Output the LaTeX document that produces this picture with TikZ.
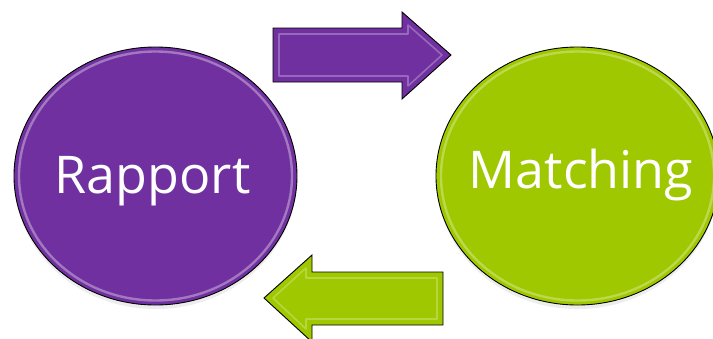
\documentclass[tikz,border=0pt]{standalone}
\usepackage{fontspec}
\setmainfont{Open Sans}
\usetikzlibrary{shapes.geometric}
\definecolor{rapportpurple}{HTML}{7030A0}
\definecolor{matchgreen}{HTML}{A0C800}
\tikzset{
  blob/.style={ellipse, draw=black, line width=0.9pt, minimum width=283pt,
    minimum height=258pt, inner sep=0pt},
  rim/.style={line width=2.4pt, draw opacity=0.5},
  label/.style={text=white, font=\fontsize{52}{60}\selectfont, anchor=base, inner sep=0pt},
  arrowbody/.style={draw=black, line width=0.9pt, line join=miter},
  bevel/.style={line width=1.6pt, draw opacity=0.5, line join=round},
  shade/.style={fill=black, fill opacity=0.07}
}
\begin{document}
\begin{tikzpicture}[x=1pt, y=-1pt]
  \useasboundingbox (0,0) rectangle (713,338);
  \clip (0,0) rectangle (713,338);

  % soft shadows under the two discs
  \fill[shade] (155.5,180) ellipse [x radius=141, y radius=129];
  \fill[shade] (577.5,180) ellipse [x radius=141, y radius=129];

  % the two discs
  \node[blob, fill=rapportpurple] (rapport) at (155.5,176) {};
  \node[blob, fill=matchgreen] (matching) at (577.5,176) {};

  % glossy rims
  \draw[rim, draw=white!70!rapportpurple] (rapport.center) ellipse [x radius=136.5, y radius=124.5];
  \draw[rim, draw=white!60!matchgreen] (matching.center) ellipse [x radius=136.5, y radius=124.5];

  % labels
  \node[label] (rapporttext) at (152.5,193) {Rapport};
  \node[label] (matchingtext) at (581,188) {Matching};

  % upper arrow, pointing right
  \path[arrowbody, fill=rapportpurple]
    (273,28) -- (402,28) -- (402,12) -- (451,55) -- (402,99) -- (402,82) -- (273,82) -- cycle;
  \draw[bevel, draw=white!55!rapportpurple]
    (279,34) -- (408,34) -- (408,25) -- (442,55) -- (408,86) -- (408,76) -- (279,76) -- cycle;

  % lower arrow, pointing left
  \path[arrowbody, fill=matchgreen]
    (443,272) -- (312,272) -- (312,255) -- (264,298) -- (312,342) -- (312,325) -- (443,325) -- cycle;
  \draw[bevel, draw=white!50!matchgreen]
    (437,278) -- (306,278) -- (306,268) -- (273,298) -- (306,329) -- (306,319) -- (437,319) -- cycle;
\end{tikzpicture}
\end{document}
